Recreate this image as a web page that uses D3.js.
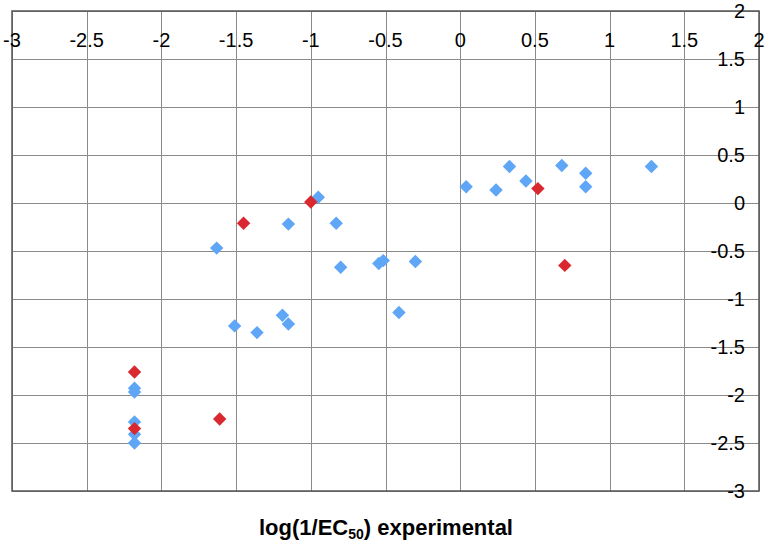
<!DOCTYPE html>
<html><head><meta charset="utf-8">
<script src="https://cdn.jsdelivr.net/npm/d3@7"></script>
<style>body{margin:0;background:#fff;} svg{display:block;} text{font-family:"Liberation Sans",Arial,Helvetica,sans-serif;}</style>
</head><body>
<svg id="c" width="767" height="546"></svg>
<script>
const xTicks = [-3,-2.5,-2,-1.5,-1,-0.5,0,0.5,1,1.5,2];
const yTicks = [2,1.5,1,0.5,0,-0.5,-1,-1.5,-2,-2.5,-3];
const blueX = [-1.63,-1.51,-1.36,-1.15,-1.19,-1.15,-0.95,-0.83,-0.80,-0.545,-0.515,-0.30,-0.41,0.04,0.24,0.33,0.44,0.68,0.84,0.84,1.28,-2.18,-2.18,-2.18,-2.18,-2.18];
const blueY = [-0.47,-1.28,-1.35,-0.22,-1.17,-1.26,0.06,-0.21,-0.67,-0.63,-0.60,-0.61,-1.14,0.17,0.135,0.38,0.23,0.39,0.31,0.17,0.38,-1.93,-1.97,-2.28,-2.41,-2.50];
const redX = [-2.18,-2.18,-1.61,-1.45,-1.0,0.52,0.70];
const redY = [-1.76,-2.35,-2.25,-0.21,0.01,0.15,-0.65];
const xTitle = "log(1/EC";
const xTitleSub = "50";
const xTitleEnd = ") experimental";

const svg = d3.select("#c");
const L=12, R=759, T=11, B=491;
const x = d3.scaleLinear().domain([-3,2]).range([L,R]);
const y = d3.scaleLinear().domain([-3,2]).range([B,T]);

// grid
const g = svg.append("g");
g.selectAll(".vx").data(xTicks).enter().append("line")
  .attr("x1",d=>Math.round(x(d))+0.5).attr("x2",d=>Math.round(x(d))+0.5)
  .attr("y1",T).attr("y2",B).attr("stroke","#8a8a8a").attr("stroke-width",1);
g.selectAll(".hy").data(yTicks).enter().append("line")
  .attr("y1",d=>Math.round(y(d))+0.5).attr("y2",d=>Math.round(y(d))+0.5)
  .attr("x1",L).attr("x2",R).attr("stroke","#8a8a8a").attr("stroke-width",1);
svg.append("rect").attr("x",L).attr("y",T).attr("width",R-L).attr("height",B-T)
  .attr("fill","none").attr("stroke","#555").attr("stroke-width",1.5);

// x tick labels (inside, near top)
svg.selectAll(".xl").data(xTicks).enter().append("text")
  .attr("x",d=>x(d)).attr("y",47).attr("text-anchor","middle")
  .attr("font-size",20).attr("fill","#000").text(d=>d);
// y tick labels (right side)
svg.selectAll(".yl").data(yTicks).enter().append("text")
  .attr("x",745).attr("y",d=>y(d)).attr("dy","0.35em").attr("text-anchor","end")
  .attr("font-size",20).attr("fill","#000").text(d=>d);

const sym = d3.symbol().type(d3.symbolDiamond2).size(115);
function pts(xs,ys,col){
  svg.append("g").selectAll("path").data(xs.map((v,i)=>[v,ys[i]])).enter().append("path")
    .attr("d",sym).attr("transform",d=>`translate(${x(d[0])},${y(d[1])})`)
    .attr("fill",col);
}
pts(blueX,blueY,"#5fa6f6");
pts(redX,redY,"#d9282f");

const t = svg.append("text").attr("x",386).attr("y",535).attr("text-anchor","middle")
  .attr("font-size",22).attr("font-weight","bold").attr("fill","#000");
t.append("tspan").text(xTitle);
t.append("tspan").attr("font-size",14).attr("dy",4).text(xTitleSub);
t.append("tspan").attr("dy",-4).text(xTitleEnd);
</script>
</body></html>
